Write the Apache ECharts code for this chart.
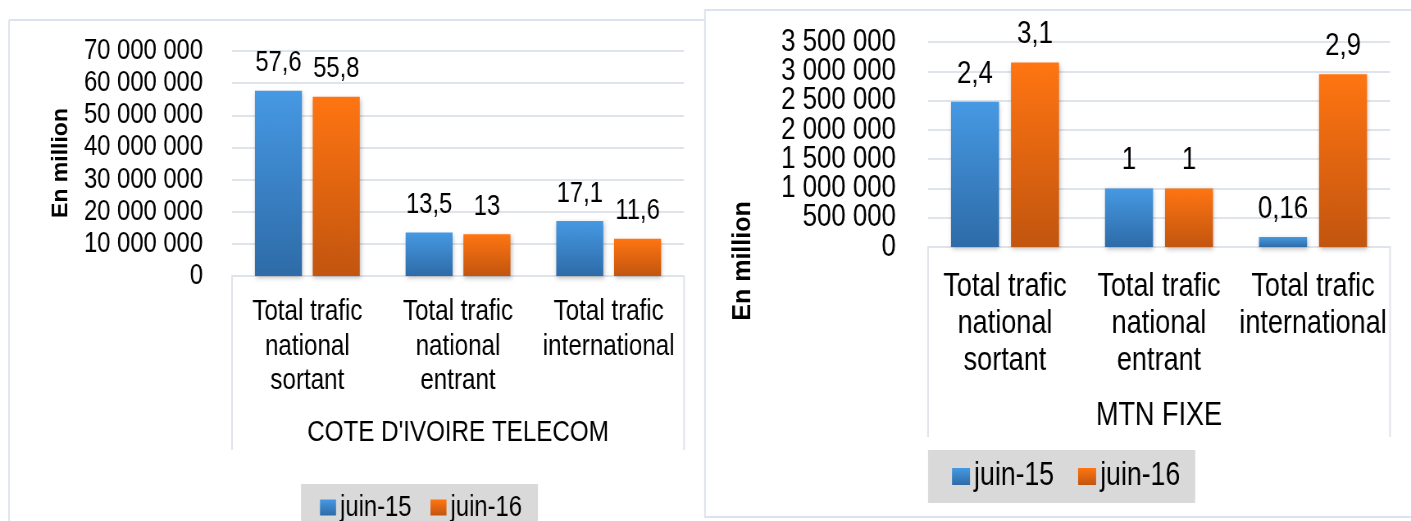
<!DOCTYPE html>
<html>
<head>
<meta charset="utf-8">
<script src="https://cdn.jsdelivr.net/npm/echarts@6/dist/echarts.min.js"></script>
<style>
html,body{margin:0;padding:0;background:#fff;overflow:hidden;width:1411px;height:521px;}
#main{width:1721px;height:521px;transform:scaleX(0.819872);transform-origin:0 0;}
</style>
</head>
<body>
<div id="main"></div>
<script>
// ---- data ----
const categories = ['Total trafic\nnational\nsortant', 'Total trafic\nnational\nentrant', 'Total trafic\ninternational'];
const seriesNames = ['juin-15', 'juin-16'];

const ciGroup = "COTE D'IVOIRE TELECOM";
const ciJuin15 = [57600000, 13500000, 17100000];
const ciJuin16 = [55800000, 13000000, 11600000];
const ciLabels15 = ['57,6', '13,5', '17,1'];
const ciLabels16 = ['55,8', '13', '11,6'];

const mtnGroup = 'MTN FIXE';
const mtnJuin15 = [2480000, 1000000, 170000];
const mtnJuin16 = [3150000, 1000000, 2950000];
const mtnLabels15 = ['2,4', '1', '0,16'];
const mtnLabels16 = ['3,1', '1', '2,9'];
// MTN tick labels, split in two alternating sets so none is auto-hidden
const mtnTicksA = [0, 1000000, 2000000, 3000000];
const mtnTicksB = [500000, 1500000, 2500000, 3500000];

const yAxisName = 'En million';

// ---- styles / layout ----
// The page is drawn 1721px wide and squeezed to 1411px (narrow Arial look).
const S = 1411 / 1721;
const X = v => v / S;
const FONT = "'Liberation Sans', Arial, sans-serif";
const GRID_COLOR = '#DFE3EA';
const FRAME_COLOR = '#DDE3EE';

const blueGrad = new echarts.graphic.LinearGradient(0, 0, 0, 1, [
  {offset: 0, color: '#4699E3'}, {offset: 1, color: '#2E6BA8'}]);
const orangeGrad = new echarts.graphic.LinearGradient(0, 0, 0, 1, [
  {offset: 0, color: '#FF7512'}, {offset: 1, color: '#C2550F'}]);

const G1 = {left: X(232), top: 51, width: X(452), height: 225, boxBottom: 450};
const G2 = {left: X(928), top: 42, width: X(462), height: 205, boxBottom: 437};

function thousands(v) {
  return String(v).replace(/\B(?=(\d{3})+(?!\d))/g, ' ');
}

function bar(name, data, labels, xi, yi, color, fs, dist, bw, gap) {
  return {
    type: 'bar', name: name, xAxisIndex: xi, yAxisIndex: yi,
    data: data, barWidth: bw, barGap: gap,
    itemStyle: {color: color, shadowBlur: 5, shadowColor: 'rgba(0,0,0,0.28)', shadowOffsetX: 1, shadowOffsetY: 2},
    label: {
      show: true, position: 'top', distance: dist,
      fontFamily: FONT, fontSize: fs, lineHeight: fs, color: '#000',
      formatter: p => labels[p.dataIndex]
    }
  };
}

function xAxis(gi, group, fs, lh, margin, nameFs, nameGap) {
  return {
    type: 'category', gridIndex: gi, data: categories,
    axisLine: {lineStyle: {color: GRID_COLOR, width: 2}},
    axisTick: {show: false},
    axisLabel: {color: '#000', fontFamily: FONT, fontSize: fs, lineHeight: lh, margin: margin, interval: 0, hideOverlap: false},
    name: group, nameLocation: 'middle', nameGap: nameGap,
    nameTextStyle: {color: '#000', fontFamily: FONT, fontSize: nameFs, lineHeight: nameFs}
  };
}

function yAxis(gi, max, interval, fs, margin, custom, split) {
  const ax = {
    type: 'value', gridIndex: gi, min: 0, max: max, interval: interval, position: 'left',
    axisLine: {show: false}, axisTick: {show: false},
    splitLine: {show: split, lineStyle: {color: GRID_COLOR, width: 2}},
    axisLabel: {color: '#000', fontFamily: FONT, fontSize: fs, margin: margin, formatter: thousands,
      showMinLabel: true, showMaxLabel: true, hideOverlap: false}
  };
  if (custom) ax.axisLabel.customValues = custom;
  return ax;
}

function vline(x, y1, y2, color) {
  return {type: 'line', z: 0, shape: {x1: x, y1: y1, x2: x, y2: y2}, style: {stroke: color, lineWidth: 2}};
}
function hline(x1, x2, y, color) {
  return {type: 'line', z: 0, shape: {x1: x1, y1: y, x2: x2, y2: y}, style: {stroke: color, lineWidth: 2}};
}
function yTitle(x, y, fs) {
  return {
    type: 'text', z: 5, x: x, y: y, rotation: Math.PI / 2, scaleY: 1 / S,
    style: {text: yAxisName, fill: '#000', font: 'bold ' + fs + 'px ' + FONT, align: 'center', verticalAlign: 'middle'}
  };
}

const chart = echarts.init(document.getElementById('main'), null, {renderer: 'canvas'});
chart.setOption({
  animation: false,
  backgroundColor: '#fff',
  grid: [
    {left: G1.left, top: G1.top, width: G1.width, height: G1.height},
    {left: G2.left, top: G2.top, width: G2.width, height: G2.height}
  ],
  xAxis: [
    xAxis(0, ciGroup, 29.5, 34.5, 19, 29.5, 142),
    xAxis(1, mtnGroup, 33, 37, 21, 33, 152)
  ],
  yAxis: [
    yAxis(0, 70000000, 10000000, 29, X(29), null, true),
    yAxis(1, 3500000, 500000, 31.5, X(32), mtnTicksA, true),
    yAxis(1, 3500000, 500000, 31.5, X(32), mtnTicksB, false)
  ],
  legend: [
    {
      data: seriesNames, left: X(301), top: 484, orient: 'horizontal',
      backgroundColor: '#D9D9D9', padding: [9, X(16), 12, X(19)],
      icon: 'rect', itemWidth: X(16), itemHeight: 16, itemGap: X(19),
      textStyle: {color: '#000', fontFamily: FONT, fontSize: 29, lineHeight: 28}
    },
    {
      data: seriesNames, left: X(928), top: 450, orient: 'horizontal',
      backgroundColor: '#D9D9D9', padding: [10, X(15), 10, X(24)],
      icon: 'rect', itemWidth: X(18), itemHeight: 17, itemGap: X(24),
      textStyle: {color: '#000', fontFamily: FONT, fontSize: 32.5, lineHeight: 32}
    }
  ],
  series: [
    bar(seriesNames[0], ciJuin15, ciLabels15, 0, 0, blueGrad, 29, 13, X(47), '23%'),
    bar(seriesNames[1], ciJuin16, ciLabels16, 0, 0, orangeGrad, 29, 13, X(47), '23%'),
    bar(seriesNames[0], mtnJuin15, mtnLabels15, 1, 1, blueGrad, 31.5, 12, X(48), '25%'),
    bar(seriesNames[1], mtnJuin16, mtnLabels16, 1, 1, orangeGrad, 31.5, 12, X(48), '25%')
  ],
  graphic: [
    vline(X(9), 20, 521, FRAME_COLOR),
    hline(X(9), X(704), 20, FRAME_COLOR),
    {type: 'rect', z: 0, shape: {x: X(705), y: 10, width: X(720), height: 507}, style: {fill: null, stroke: FRAME_COLOR, lineWidth: 2}},
    vline(G1.left, G1.top + G1.height, G1.boxBottom, GRID_COLOR),
    vline(G1.left + G1.width, G1.top + G1.height, G1.boxBottom, GRID_COLOR),
    vline(G2.left, G2.top + G2.height, G2.boxBottom, GRID_COLOR),
    vline(G2.left + G2.width, G2.top + G2.height, G2.boxBottom, GRID_COLOR),
    yTitle(X(61), 163, 23),
    yTitle(X(743), 261, 25)
  ]
});
</script>
</body>
</html>
